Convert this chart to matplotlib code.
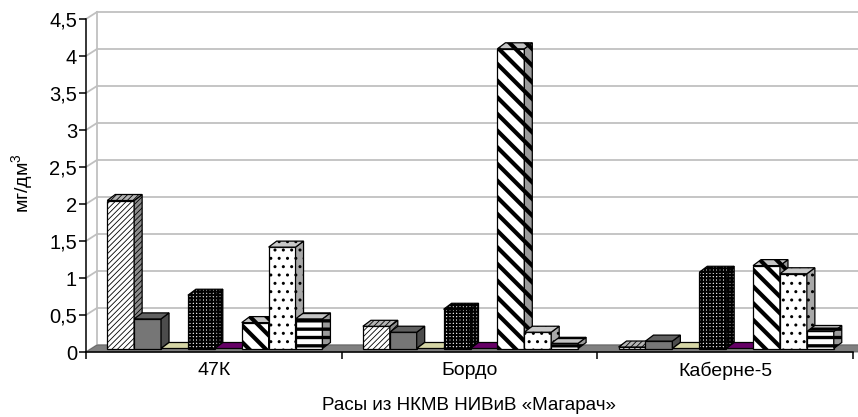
import matplotlib
matplotlib.use("Agg")
import matplotlib.pyplot as plt
from matplotlib.patches import Polygon

plt.rcParams['font.family'] = ['Liberation Sans', 'DejaVu Sans']
plt.rcParams['mathtext.fontset'] = 'custom'
plt.rcParams['mathtext.rm'] = 'Liberation Sans'
plt.rcParams['mathtext.it'] = 'Liberation Sans'

# data (мг/дм3)
categories = ['47К', 'Бордо', 'Каберне-5']
ser_1 = [2.0, 0.30, 0.02]
ser_2 = [0.40, 0.22, 0.10]
ser_3 = [0.0, 0.0, 0.0]
ser_4 = [0.72, 0.53, 1.03]
ser_5 = [0.0, 0.0, 0.0]
ser_6 = [0.35, 4.05, 1.12]
ser_7 = [1.37, 0.22, 1.01]
ser_8 = [0.40, 0.07, 0.23]
series = [ser_1, ser_2, ser_3, ser_4, ser_5, ser_6, ser_7, ser_8]
yticks = [0, 0.5, 1, 1.5, 2, 2.5, 3, 3.5, 4, 4.5]

# fill styles: front, side, top colours, hatch, hatch width
styles = [
    dict(front='white', side='#8c8c8c', top='#b4b4b4', hatch='//////', hlw=0.6),
    dict(front='#767676', side='#4c4c4c', top='#606060', hatch=None, hlw=1),
    dict(front='#dcdcb0', side='#b8b88e', top='#d6d6a6', hatch=None, hlw=1),
    dict(front='white', side='#a0a0a0', top='#c0c0c0', hatch='+++++', hlw=1.5),
    dict(front='#660066', side='#4a004a', top='#660066', hatch=None, hlw=1),
    dict(front='white', side='#9a9a9a', top='#c4c4c4', hatch='\\\\', hlw=3.0),
    dict(front='white', side='#a8a8a8', top='#c8c8c8', hatch='..', hlw=1),
    dict(front='white', side='#9a9a9a', top='#c4c4c4', hatch='--', hlw=2.4),
]

W_PX, H_PX = 858, 417
AX_L, AX_R, AX_B, AX_T = 86, 853, 352, 19
fig = plt.figure(figsize=(W_PX / 100, H_PX / 100), dpi=100)
ax = fig.add_axes([AX_L / W_PX, (H_PX - AX_B) / H_PX,
                   (AX_R - AX_L) / W_PX, (AX_B - AX_T) / H_PX])
ax.set_xlim(0, len(categories))
ax.set_ylim(0, 4.5)

# pixel -> data helpers
px_x = (AX_R - AX_L) / len(categories)
px_y = (AX_B - AX_T) / 4.5
def dx(p):
    return p / px_x
def dy(p):
    return p / px_y

# back wall, side wall and floor
WX, WY = dx(11), dy(7)
grid_c = '#c0c0c0'
for v in yticks:
    ax.plot([WX, len(categories) + WX + 0.1], [v + WY, v + WY], color=grid_c,
            lw=1.3, clip_on=False, zorder=0.5)
    ax.plot([0, WX], [v, v + WY], color=grid_c, lw=1.3, clip_on=False, zorder=0.5)
ax.plot([WX, WX], [WY, 4.5 + WY], color=grid_c, lw=1.3, clip_on=False, zorder=0.5)
ax.add_patch(Polygon([(0, 0), (len(categories) + 0.1, 0),
                      (len(categories) + 0.1 + WX, WY), (WX, WY)],
                     closed=True, facecolor='#808080', edgecolor='#606060',
                     lw=0.6, clip_on=False, zorder=0.6))

# bars
bw = dx(26.9)
base = dy(3.5)
shift = dx(1)
DX, DY = dx(8), dy(6)
n = len(series)
z = 1.0
for i in range(len(categories)):
    for j, (vals, st) in enumerate(zip(series, styles)):
        h = vals[i]
        x0 = i + 0.5 + (j - n / 2) * bw + shift
        x1 = x0 + bw
        y0, y1 = base, base + h
        with plt.rc_context({'hatch.linewidth': st['hlw'], 'hatch.color': 'black'}):
            if h > 0:
                ax.bar(x0, h, bw, bottom=base, align='edge',
                       facecolor=st['front'], edgecolor='black', lw=0.9,
                       hatch=st['hatch'], zorder=z)
            side = Polygon([(x1, y0), (x1 + DX, y0 + DY), (x1 + DX, y1 + DY), (x1, y1)],
                           closed=True, facecolor=st['side'], edgecolor='black',
                           lw=0.9, hatch=st['hatch'], zorder=z, clip_on=False)
            top = Polygon([(x0, y1), (x1, y1), (x1 + DX, y1 + DY), (x0 + DX, y1 + DY)],
                          closed=True, facecolor=st['top'], edgecolor='black',
                          lw=0.9, hatch=st['hatch'], zorder=z, clip_on=False)
            ax.add_patch(side)
            ax.add_patch(top)
        z += 0.01

# axes
for s in ['top', 'right']:
    ax.spines[s].set_visible(False)
for s in ['left', 'bottom']:
    ax.spines[s].set_color('black')
    ax.spines[s].set_linewidth(1.1)
    ax.spines[s].set_zorder(5)

ax.set_yticks(yticks)
ax.set_yticklabels([('%g' % v).replace('.', ',') for v in yticks], fontsize=14.5)
ax.tick_params(axis='y', length=5, width=1.1, pad=1.5, direction='out')

ax.set_xticks([i + 0.5 for i in range(len(categories))])
ax.set_xticklabels(categories, fontsize=14)
ax.set_xticks(range(len(categories) + 1), minor=True)
ax.tick_params(axis='x', which='major', length=0, pad=7)
ax.tick_params(axis='x', which='minor', length=5, width=1.1, direction='out')

fig.text(469 / W_PX, 1 - 406 / H_PX, 'Расы из НКМВ НИВиВ «Магарач»',
         ha='center', va='center', fontsize=13.5)
fig.text(22 / W_PX, 1 - 183 / H_PX, 'мг/дм$^3$', rotation=90,
         ha='center', va='center', fontsize=14)

fig.savefig('out.png', dpi=100)
